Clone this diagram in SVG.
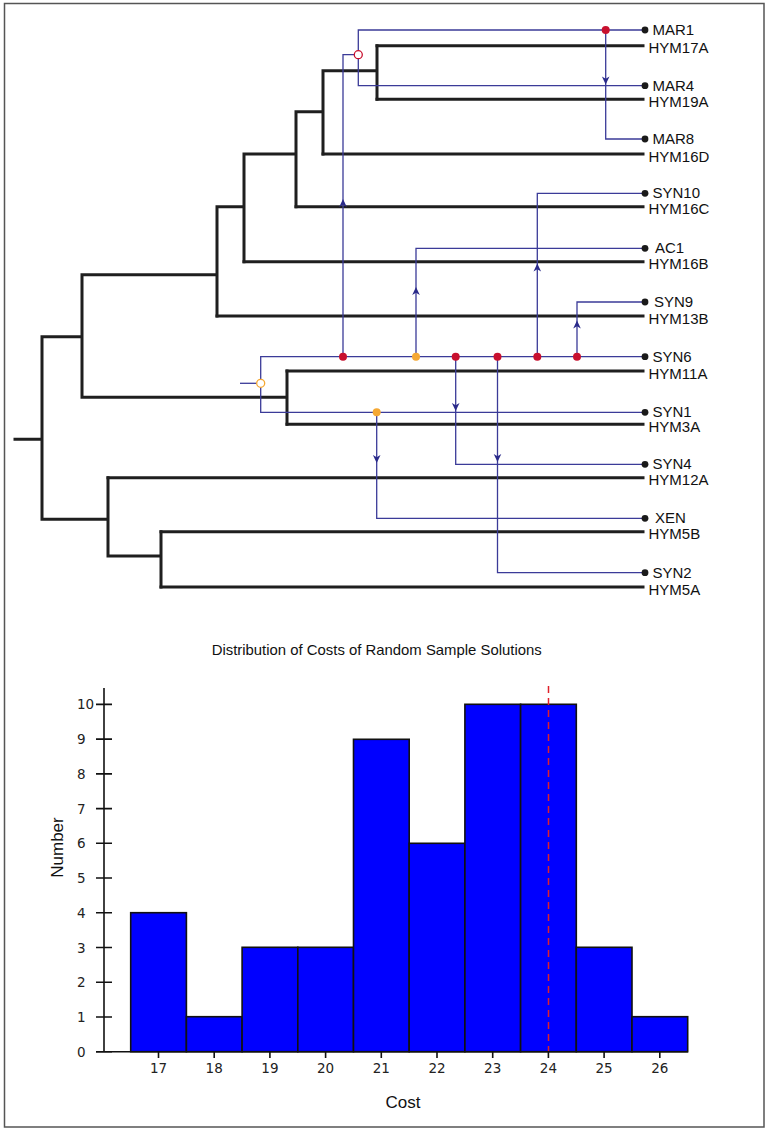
<svg xmlns="http://www.w3.org/2000/svg" xmlns:xlink="http://www.w3.org/1999/xlink" width="768" height="1131" viewBox="0 0 768 1131">
<style>
.host{fill:none;stroke:#1f1f1f;stroke-width:3;stroke-linecap:square;stroke-linejoin:miter}
.para{fill:none;stroke:#3b3b98;stroke-width:1.3}
.lbl{font-family:"Liberation Sans",Arial,sans-serif;font-size:15px;fill:#111}
.leafdot{fill:#1a1a1a}
.red{fill:#c8102e}
.yel{fill:#f5a833}
.ored{fill:#fff;stroke:#c8102e;stroke-width:1.3}
.oyel{fill:#fff;stroke:#f5a833;stroke-width:1.3}
.ah{fill:#2a2a8a}
.tick{stroke:#111;stroke-width:1.6}
.num{font-family:"DejaVu Sans",Verdana,sans-serif;font-size:13.5px;fill:#222}
.bar{fill:#0000ff;stroke:#111;stroke-width:1.6}
.title{font-family:"Liberation Sans",Arial,sans-serif;fill:#111}
</style>
<defs>
<path id="ah" d="M0,0 L3.8,8 L0,5.8 L-3.8,8 Z"/>
</defs>
<rect x="0" y="0" width="768" height="1131" fill="#fff"/>
<rect x="4.5" y="3.5" width="759.5" height="1123.5" fill="none" stroke="#555" stroke-width="1.5"/>

<g id="host-tree">
<path class="host" d="M377,45.7 V99.3 M323,70.7 H377 M323,70.7 V154 M296,111.7 H323 M296,111.7 V206.7 M244,154 H296 M244,154 V261.7 M217,206.7 H244 M217,206.7 V316 M82,274.7 H217 M287,371 V424.3 M82,397.3 H287 M82,274.7 V397.3 M42,336.7 H82 M161,531.7 V587 M108,556 H161 M108,477.7 V556 M42,519.3 H108 M42,336.7 V519.3 M15,439.3 H42"/>
<path class="host" d="M377,45.7 H643 M377,99.3 H643 M323,154 H643 M296,206.7 H643 M244,261.7 H643 M217,316 H643 M287,371 H643 M287,424.3 H643 M108,477.7 H643 M161,531.7 H643 M161,587 H643"/>
</g>

<g id="connectors">
<path class="para" d="M645,30 H358.3 V85.7 H645"/>
<path class="para" d="M354.3,54.7 H343 V356.7"/>
<path class="para" d="M605.7,30 V139 H645"/>
<path class="para" d="M645,356.7 H260.7 V412.3 H645"/>
<path class="para" d="M240,383.3 H256.7"/>
<path class="para" d="M416,356.7 V248.3 H645"/>
<path class="para" d="M537.3,356.7 V193.3 H645"/>
<path class="para" d="M577,356.7 V302 H645"/>
<path class="para" d="M455.7,356.7 V464.3 H645"/>
<path class="para" d="M497.5,356.7 V572.7 H645"/>
<path class="para" d="M376.7,412.3 V518.3 H645"/>
<use href="#ah" class="ah" transform="translate(343,199)"/>
<use href="#ah" class="ah" transform="translate(605.7,84.5) rotate(180)"/>
<use href="#ah" class="ah" transform="translate(416,287)"/>
<use href="#ah" class="ah" transform="translate(537.3,263.5)"/>
<use href="#ah" class="ah" transform="translate(577,320.5)"/>
<use href="#ah" class="ah" transform="translate(455.7,411) rotate(180)"/>
<use href="#ah" class="ah" transform="translate(497.5,462) rotate(180)"/>
<use href="#ah" class="ah" transform="translate(376.7,463) rotate(180)"/>
</g>

<g id="events">
<circle class="ored" cx="358.3" cy="54.7" r="4"/>
<circle class="red" cx="605.7" cy="30" r="4"/>
<circle class="oyel" cx="260.7" cy="383.3" r="4"/>
<circle class="red" cx="343" cy="356.7" r="4"/>
<circle class="yel" cx="416" cy="356.7" r="4"/>
<circle class="red" cx="455.7" cy="356.7" r="4"/>
<circle class="red" cx="497.5" cy="356.7" r="4"/>
<circle class="red" cx="537.3" cy="356.7" r="4"/>
<circle class="red" cx="577" cy="356.7" r="4"/>
<circle class="yel" cx="376.7" cy="412.3" r="4"/>
</g>

<g id="parasite-leaves">
<g id="p-MAR1"><circle class="leafdot" cx="645" cy="30" r="3.4"/><text class="lbl" x="652.5" y="34.8">MAR1</text></g>
<g id="p-MAR4"><circle class="leafdot" cx="645" cy="85.7" r="3.4"/><text class="lbl" x="652.5" y="90.5">MAR4</text></g>
<g id="p-MAR8"><circle class="leafdot" cx="645" cy="139" r="3.4"/><text class="lbl" x="652.5" y="143.8">MAR8</text></g>
<g id="p-SYN10"><circle class="leafdot" cx="645" cy="193.3" r="3.4"/><text class="lbl" x="652.5" y="198.1">SYN10</text></g>
<g id="p-AC1"><circle class="leafdot" cx="645" cy="248.3" r="3.4"/><text class="lbl" x="655" y="253.1">AC1</text></g>
<g id="p-SYN9"><circle class="leafdot" cx="645" cy="302" r="3.4"/><text class="lbl" x="654" y="306.8">SYN9</text></g>
<g id="p-SYN6"><circle class="leafdot" cx="645" cy="356.7" r="3.4"/><text class="lbl" x="652.5" y="361.5">SYN6</text></g>
<g id="p-SYN1"><circle class="leafdot" cx="645" cy="412.3" r="3.4"/><text class="lbl" x="652.5" y="416.8">SYN1</text></g>
<g id="p-SYN4"><circle class="leafdot" cx="645" cy="464.3" r="3.4"/><text class="lbl" x="652.5" y="469.1">SYN4</text></g>
<g id="p-XEN"><circle class="leafdot" cx="645" cy="518.3" r="3.4"/><text class="lbl" x="655" y="523.1">XEN</text></g>
<g id="p-SYN2"><circle class="leafdot" cx="645" cy="572.7" r="3.4"/><text class="lbl" x="652.5" y="577.5">SYN2</text></g>
</g>

<g id="host-leaves">
<text class="lbl" x="648.5" y="53.2">HYM17A</text>
<text class="lbl" x="648.5" y="106.8">HYM19A</text>
<text class="lbl" x="648.5" y="161.5">HYM16D</text>
<text class="lbl" x="648.5" y="214.2">HYM16C</text>
<text class="lbl" x="648.5" y="269.2">HYM16B</text>
<text class="lbl" x="648.5" y="323.5">HYM13B</text>
<text class="lbl" x="648.5" y="378.5">HYM11A</text>
<text class="lbl" x="648.5" y="432.3">HYM3A</text>
<text class="lbl" x="648.5" y="485.2">HYM12A</text>
<text class="lbl" x="648.5" y="539.2">HYM5B</text>
<text class="lbl" x="648.5" y="594.5">HYM5A</text>
</g>

<g id="histogram">
<text class="title" x="376.7" y="655" font-size="14.5" text-anchor="middle" textLength="330" lengthAdjust="spacingAndGlyphs">Distribution of Costs of Random Sample Solutions</text>
<g id="bars">
<rect class="bar" x="130.7" y="912.7" width="55.7" height="139"/>
<rect class="bar" x="186.4" y="1016.7" width="55.7" height="35"/>
<rect class="bar" x="242.1" y="947.3" width="55.7" height="104.4"/>
<rect class="bar" x="297.8" y="947.3" width="55.7" height="104.4"/>
<rect class="bar" x="353.5" y="739.3" width="55.7" height="312.4"/>
<rect class="bar" x="409.2" y="843.3" width="55.7" height="208.4"/>
<rect class="bar" x="464.9" y="704.3" width="55.7" height="347.4"/>
<rect class="bar" x="520.6" y="704.3" width="55.7" height="347.4"/>
<rect class="bar" x="576.3" y="947.3" width="55.7" height="104.4"/>
<rect class="bar" x="632" y="1016.7" width="55.7" height="35"/>
</g>
<line x1="548.5" y1="686" x2="548.5" y2="1051" stroke="#e0202a" stroke-width="1.5" stroke-dasharray="7,5"/>
<g id="y-axis">
<line class="tick" x1="104" y1="688" x2="104" y2="1051.7"/>
<path class="tick" d="M96,1051.7H112 M96,1017H112 M96,982.3H112 M96,947.5H112 M96,912.8H112 M96,878H112 M96,843.3H112 M96,808.6H112 M96,773.9H112 M96,739.1H112 M96,704.4H112"/>
<text class="num" x="77" y="1056.7">0</text>
<text class="num" x="77" y="1022">1</text>
<text class="num" x="77" y="987.3">2</text>
<text class="num" x="77" y="952.5">3</text>
<text class="num" x="77" y="917.8">4</text>
<text class="num" x="77" y="883">5</text>
<text class="num" x="77" y="848.3">6</text>
<text class="num" x="77" y="813.6">7</text>
<text class="num" x="77" y="778.9">8</text>
<text class="num" x="77" y="744.1">9</text>
<text class="num" x="77" y="709.4">10</text>
</g>
<g id="x-axis">
<line class="tick" x1="96" y1="1051.7" x2="688" y2="1051.7"/>
<path class="tick" d="M158.5,1051.7V1058 M214.2,1051.7V1058 M269.9,1051.7V1058 M325.6,1051.7V1058 M381.3,1051.7V1058 M437,1051.7V1058 M492.7,1051.7V1058 M548.4,1051.7V1058 M604.1,1051.7V1058 M659.8,1051.7V1058"/>
<g text-anchor="middle">
<text class="num" x="158.5" y="1073">17</text>
<text class="num" x="214.2" y="1073">18</text>
<text class="num" x="269.9" y="1073">19</text>
<text class="num" x="325.6" y="1073">20</text>
<text class="num" x="381.3" y="1073">21</text>
<text class="num" x="437" y="1073">22</text>
<text class="num" x="492.7" y="1073">23</text>
<text class="num" x="548.4" y="1073">24</text>
<text class="num" x="604.1" y="1073">25</text>
<text class="num" x="659.8" y="1073">26</text>
</g>
</g>
<text class="title" x="403" y="1107.5" font-size="17" text-anchor="middle">Cost</text>
<text class="title" font-size="17" text-anchor="middle" transform="translate(63,847.5) rotate(-90)">Number</text>
</g>
</svg>
